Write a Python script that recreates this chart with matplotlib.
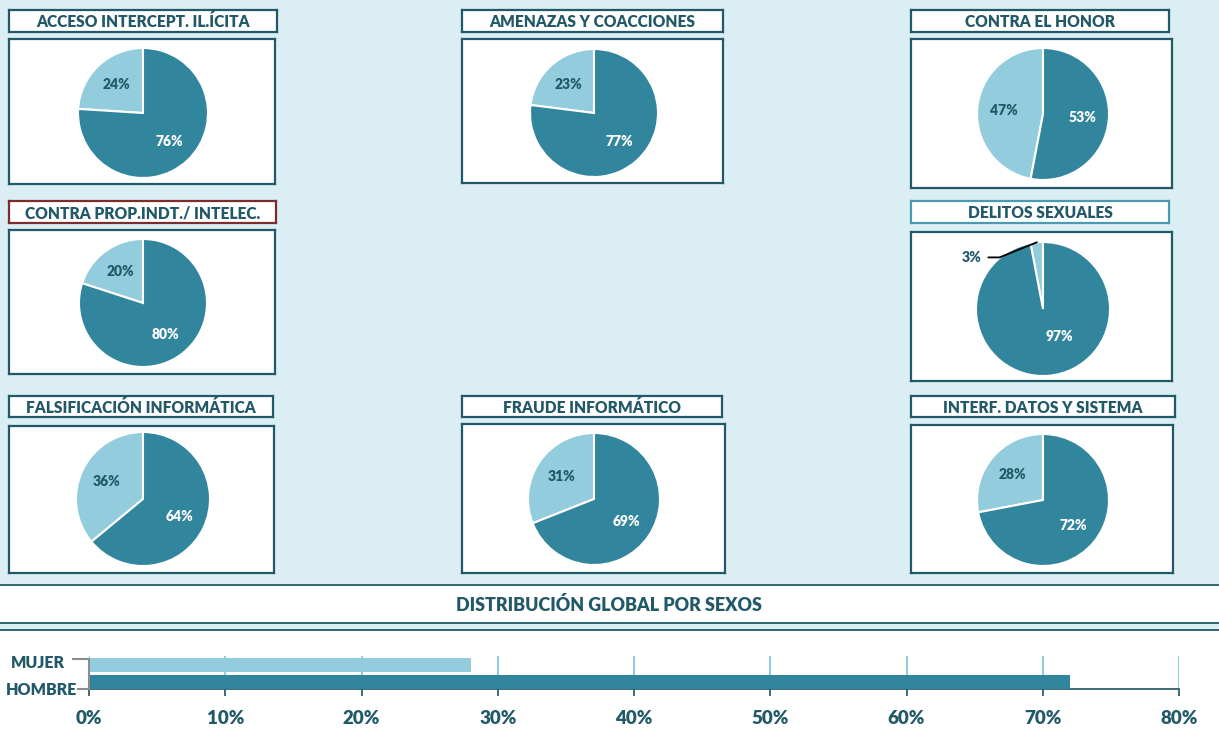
import matplotlib
matplotlib.use('Agg')
import matplotlib.pyplot as plt
import numpy as np
from matplotlib.patches import Rectangle
from matplotlib.lines import Line2D
from matplotlib.ticker import PercentFormatter

plt.rcParams['font.family'] = ['Lato', 'DejaVu Sans']
NEGRITA = 'heavy'

# datos: % mujer / % hombre por tipo de delito
titulos = ['ACCESO INTERCEPT. IL.ÍCITA', 'AMENAZAS Y COACCIONES', 'CONTRA EL HONOR',
           'CONTRA PROP.INDT./ INTELEC.', 'DELITOS SEXUALES',
           'FALSIFICACIÓN INFORMÁTICA', 'FRAUDE INFORMÁTICO', 'INTERF. DATOS Y SISTEMA']
mujer = [24, 23, 47, 20, 3, 36, 31, 28]
hombre = [76, 77, 53, 80, 97, 64, 69, 72]

sexos = ['HOMBRE', 'MUJER']
global_pct = [0.72, 0.28]
x_ticks = [0, 0.1, 0.2, 0.3, 0.4, 0.5, 0.6, 0.7, 0.8]

OSCURO = '#31859c'
CLARO = '#93cddd'
TEXTO = '#215968'
FONDO = '#dbeef4'

W, H = 1219, 745
fig = plt.figure(figsize=(W / 100, H / 100), dpi=100)
fig.patch.set_facecolor('white')


def px(x0, y0, x1, y1):
    return [x0 / W, 1 - y1 / H, (x1 - x0) / W, (y1 - y0) / H]


# fondo azul claro de la parte superior
fig.add_artist(Rectangle((0, 1 - 584 / H), 1, 584 / H, transform=fig.transFigure,
                         facecolor=FONDO, edgecolor='none', zorder=0))
fig.add_artist(Line2D([0, 1], [1 - 584.5 / H] * 2, transform=fig.transFigure, color=TEXTO, lw=1.3))
fig.add_artist(Rectangle((0, 1 - 630 / H), 1, 8 / H, transform=fig.transFigure,
                         facecolor=FONDO, edgecolor='none', zorder=0))
fig.add_artist(Line2D([0, 1], [1 - 622.5 / H] * 2, transform=fig.transFigure, color=TEXTO, lw=1.3))
fig.add_artist(Line2D([0, 1], [1 - 630 / H] * 2, transform=fig.transFigure, color=TEXTO, lw=1.3))

# (caja titulo, caja grafico, centro pie, radio, color borde titulo)
paneles = [
    ((9, 10, 277, 32), (9, 39, 275, 184), (143, 113), 65, TEXTO),
    ((462, 10, 723, 32), (462, 39, 723, 183), (594, 113), 64, TEXTO),
    ((911, 10, 1169, 32), (911, 39, 1172, 188), (1043, 114), 66, TEXTO),
    ((9, 201, 276, 223), (9, 230, 275, 374), (143, 303), 64, '#7b2c2c'),
    ((911, 201, 1169, 223), (911, 232, 1172, 381), (1043, 309), 67, '#4a9bb0'),
    ((9, 396, 273, 417), (9, 426, 274, 573), (143, 499), 67, TEXTO),
    ((462, 396, 722, 417), (462, 424, 725, 573), (594, 499), 66, TEXTO),
    ((911, 396, 1175, 417), (911, 425, 1173, 573), (1043, 500), 66, TEXTO),
]

for i, (tb, cb, (cx, cy), r, col_t) in enumerate(paneles):
    axt = fig.add_axes(px(*tb))
    axt.set_xticks([]); axt.set_yticks([])
    for s in axt.spines.values():
        s.set_color(col_t); s.set_linewidth(1.6)
    axt.text(0.5, 0.45, titulos[i], ha='center', va='center', fontsize=11.2,
             fontweight=NEGRITA, color=TEXTO, transform=axt.transAxes)

    axb = fig.add_axes(px(*cb))
    axb.set_xticks([]); axb.set_yticks([])
    for s in axb.spines.values():
        s.set_color(TEXTO); s.set_linewidth(1.6)

    axp = fig.add_axes(px(cx - r, cy - r, cx + r, cy + r))
    vals = [mujer[i], hombre[i]]
    axp.pie(vals, colors=[CLARO, OSCURO], startangle=90, counterclock=True,
            wedgeprops=dict(edgecolor='white', linewidth=1.5))
    axp.set_xlim(-1, 1); axp.set_ylim(-1, 1)
    axp.set_aspect('equal')
    # etiquetas
    ang = 90
    for j, v in enumerate(vals):
        mid = np.deg2rad(ang + v * 3.6 / 2)
        ang += v * 3.6
        txt = f'{v}%'
        if v < 5:
            x, y = np.cos(mid), np.sin(mid)
            axp.annotate(txt, xy=(x * 0.97, y * 1.0), xytext=(-0.92, 0.77),
                         ha='right', va='center', fontsize=10, fontweight=NEGRITA, color=TEXTO,
                         arrowprops=dict(arrowstyle='-', color='black', lw=1.3,
                                         connectionstyle='angle,angleA=0,angleB=22,rad=0',
                                         shrinkA=3, shrinkB=0),
                         annotation_clip=False)
        else:
            c = TEXTO if j == 0 else 'white'
            d = 0.52 if v > 90 else 0.6
            axp.text(d * np.cos(mid) + (0.2 if v > 90 else 0), d * np.sin(mid) + (0.1 if v > 90 else 0),
                     txt, ha='center', va='center', fontsize=10, fontweight=NEGRITA, color=c)

# titulo distribucion global
fig.text(609 / W, 1 - 605 / H, 'DISTRIBUCIÓN GLOBAL POR SEXOS', ha='center', va='center',
         fontsize=12.9, fontweight=NEGRITA, color=TEXTO)

# barras globales
axg = fig.add_axes(px(89, 656, 1179, 689))
axg.barh([0, 1], global_pct, height=0.82, color=[OSCURO, CLARO], zorder=3)
axg.set_xlim(0, 0.8)
axg.set_ylim(-0.42, 1.55)
axg.set_xticks(x_ticks)
axg.xaxis.set_major_formatter(PercentFormatter(1.0, decimals=0))
axg.tick_params(axis='x', length=5, width=1.3, color='#2f5f6c', labelsize=13.5,
                labelcolor=TEXTO, pad=10)
for lab in axg.get_xticklabels():
    lab.set_fontweight(NEGRITA)
axg.grid(axis='x', color=CLARO, lw=1.5, zorder=0)
axg.set_yticks([])
for s in ['top', 'right', 'left']:
    axg.spines[s].set_visible(False)
axg.spines['bottom'].set_color('#2f5f6c')
axg.spines['bottom'].set_linewidth(1.3)
axg.set_facecolor('none')

# etiquetas de categoria con corchete gris
off = {'HOMBRE': (77, 690), 'MUJER': (65, 663)}
for s in sexos:
    xx, yy = off[s]
    fig.text(xx / W, 1 - yy / H, s, ha='right', va='center', fontsize=11.5,
             fontweight=NEGRITA, color=TEXTO)
for seg in [((73, 659), (89, 659)), ((89, 659), (89, 689)), ((78, 689), (89, 689))]:
    (xa, ya), (xb, yb) = seg
    fig.add_artist(Line2D([xa / W, xb / W], [1 - ya / H, 1 - yb / H], transform=fig.transFigure,
                          color='#8c8c8c', lw=1.5))

fig.savefig('out.png', dpi=100, facecolor='white')
